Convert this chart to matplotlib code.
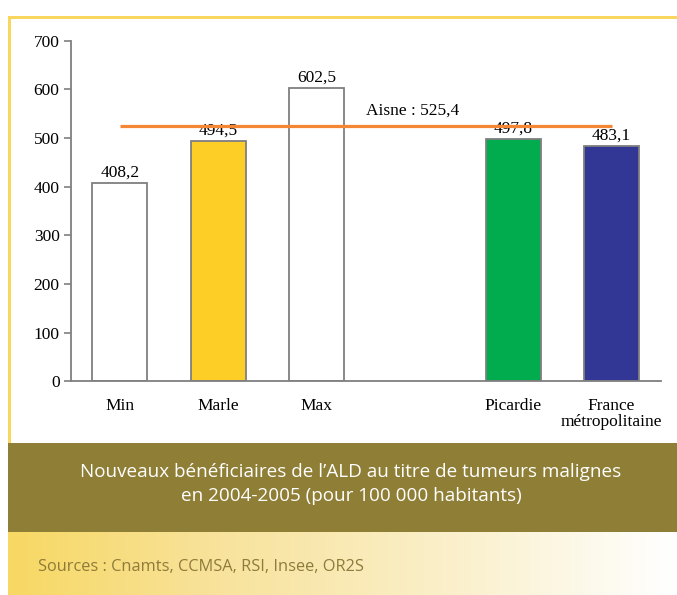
"""Nouveaux bénéficiaires de l'ALD (tumeurs malignes), Aisne 2004-2005."""
import matplotlib

matplotlib.use("Agg")
import matplotlib.pyplot as plt
import numpy as np
from matplotlib.colors import LinearSegmentedColormap
from matplotlib.patches import Rectangle

categories = ["Min", "Marle", "Max", "Picardie", "France\nmétropolitaine"]
slots = [0, 1, 2, 4, 5]
values = [408.2, 494.5, 602.5, 497.8, 483.1]
value_labels = ["408,2", "494,5", "602,5", "497,8", "483,1"]
aisne_value = 525.4
aisne_label = "Aisne : 525,4"
y_ticks = [0, 100, 200, 300, 400, 500, 600, 700]

title = "Nouveaux bénéficiaires de l’ALD au titre de tumeurs malignes\nen 2004-2005 (pour 100 000 habitants)"
sources = "Sources : Cnamts, CCMSA, RSI, Insee, OR2S"

bar_colors = ["white", "#FCCE26", "white", "#00AC4E", "#323695"]
GREY = "#7F7F80"
OLIVE = "#8F7E35"
YELLOW = "#F9D75E"
ORANGE = "#F58634"

plt.rcParams["font.family"] = ["Liberation Serif", "DejaVu Serif"]

W, H = 677, 595
fig = plt.figure(figsize=(W / 100, H / 100), dpi=100)


def fx(px):
    return px / W


def fy(py):
    return 1 - py / H


# frame: yellow border, olive title band, gradient sources band
fig.patches.append(Rectangle((fx(8), fy(443)), fx(3), fy(16) - fy(443),
                             transform=fig.transFigure, color=YELLOW, lw=0))
fig.patches.append(Rectangle((fx(8), fy(19)), 1, fx(3) * W / H,
                             transform=fig.transFigure, color=YELLOW, lw=0))
fig.patches.append(Rectangle((fx(8), fy(532)), 1, fy(443) - fy(532),
                             transform=fig.transFigure, color=OLIVE, lw=0))
grad_ax = fig.add_axes([fx(8), 0, 1 - fx(8), fy(532)])
grad_ax.set_axis_off()
cmap = LinearSegmentedColormap.from_list(
    "band", [(0, "#F7D863"), (0.3, "#F8E29A"), (0.65, "#FAEFC8"), (1, "#FFFFFF")])
grad_ax.imshow(np.linspace(0, 1, 256)[None, :], aspect="auto", cmap=cmap,
               extent=[0, 1, 0, 1])

fig.text(fx(351), fy(484), title, color="white", ha="center", va="center",
         fontsize=13.6, family=["Open Sans", "DejaVu Sans"], linespacing=1.45)
fig.text(fx(38), fy(567), sources, color="#8E7B3A", ha="left", va="center",
         fontsize=11.8, family=["Open Sans", "DejaVu Sans"])

ax = fig.add_axes([fx(70.7), fy(381.4), fx(660.7) - fx(70.7), fy(40.7) - fy(381.4)])
ax.bar(slots, values, width=0.558, color=bar_colors, edgecolor=GREY, linewidth=1.3,
       zorder=2)
for x, v, lab in zip(slots, values, value_labels):
    ax.text(x, v + 5, lab, ha="center", va="bottom", fontsize=12.5)

ax.plot([slots[0], slots[-1]], [aisne_value, aisne_value], color=ORANGE, lw=2.3,
        solid_capstyle="butt", zorder=3)
ax.text(2.5, 556, aisne_label, ha="left", va="center", fontsize=12.5)

ax.set_xlim(-0.5, 5.5)
ax.set_ylim(0, 700)
ax.set_yticks(y_ticks)
ax.set_xticks(slots, categories)
ax.tick_params(axis="x", length=0, pad=12, labelsize=12.5)
ax.tick_params(axis="y", length=5, width=1.2, color=GREY, labelsize=12.5, pad=3)
for s in ["top", "right"]:
    ax.spines[s].set_visible(False)
for s in ["left", "bottom"]:
    ax.spines[s].set_color(GREY)
    ax.spines[s].set_linewidth(1.3)
for lab in ax.get_xticklabels():
    lab.set_linespacing(1.0)
    lab.set_va("top")

fig.savefig("out.png", dpi=100)
